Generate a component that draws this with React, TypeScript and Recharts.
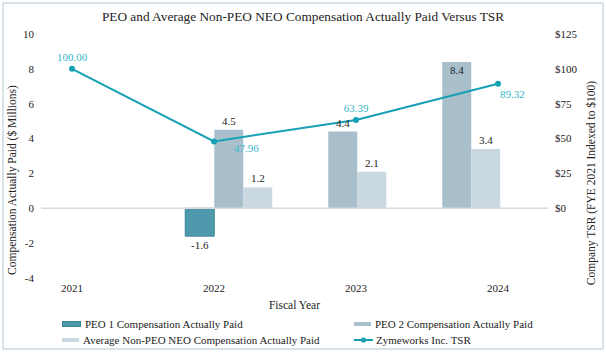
import React from 'react';
import {
  ComposedChart, Bar, Line, XAxis, YAxis, ReferenceLine, LabelList,
} from 'recharts';

// fiscal years and values
const YEARS = ['2021', '2022', '2023', '2024'];
const PEO1_CAP = [null, -1.6, null, null];        // $ millions
const PEO2_CAP = [null, 4.5, 4.4, 8.4];
const NON_PEO_CAP = [null, 1.2, 2.1, 3.4];
const TSR = [100.0, 47.96, 63.39, 89.32];         // indexed to $100

const LEFT_TICKS = [-4, -2, 0, 2, 4, 6, 8, 10];
const RIGHT_TICKS = [0, 25, 50, 75, 100, 125];

const rows = YEARS.map((year, i) => ({
  year,
  peo1: PEO1_CAP[i],
  peo2: PEO2_CAP[i],
  nonPeo: NON_PEO_CAP[i],
  tsr: TSR[i],
}));

const FONT = '"Liberation Serif", "Times New Roman", serif';
const TEAL = '#4E9AAC';
const TEAL_EDGE = '#3A8797';
const PEO2_FILL = '#A9C0CC';
const NONPEO_FILL = '#C9D8E1';
const LINE = '#16A0B5';
const LINE_TEXT = '#35B6C9';

// where each TSR value label sits relative to its point
const TSR_LABEL_POS = [
  { dx: 0, dy: -8, anchor: 'middle' },
  { dx: 20, dy: 11, anchor: 'start' },
  { dx: 0, dy: -8, anchor: 'middle' },
  { dx: 2, dy: 14, anchor: 'start' },
];

const tickStyle = { fontSize: 11, fill: '#222', fontFamily: FONT };

function barLabel(insideIdx: number[] = []) {
  return (p: any) => {
    const { x, y, width, height, value, index } = p;
    if (value == null) return null;
    const top = Math.min(y, y + height);
    const bottom = Math.max(y, y + height);
    const cx = x + width / 2;
    let ty = top - 5;
    if (value < 0) ty = bottom + 13;
    else if (insideIdx.includes(index)) ty = top + 12;
    return (
      <text x={cx} y={ty} textAnchor="middle" fontSize={11} fontFamily={FONT} fill="#222">
        {Number(value).toFixed(1)}
      </text>
    );
  };
}

function tsrLabel(p: any) {
  const { x, y, value, index } = p;
  const pos = TSR_LABEL_POS[index] || TSR_LABEL_POS[0];
  return (
    <text x={x + pos.dx} y={y + pos.dy} textAnchor={pos.anchor} fontSize={11} fontFamily={FONT} fill={LINE_TEXT}>
      {Number(value).toFixed(2)}
    </text>
  );
}

function LegendItem({ kind, color, edge, text }: { kind: 'box' | 'line'; color: string; edge?: string; text: string }) {
  return (
    <div style={{ display: 'flex', alignItems: 'center', height: 16 }}>
      {kind === 'box' ? (
        <span style={{
          display: 'inline-block', width: 17, height: 4, background: color,
          border: edge ? `1px solid ${edge}` : 'none', marginRight: 4,
        }} />
      ) : (
        <svg width={19} height={8} style={{ marginRight: 3 }}>
          <line x1={0} y1={4} x2={19} y2={4} stroke={color} strokeWidth={2} />
          <circle cx={9.5} cy={4} r={2.6} fill={color} />
        </svg>
      )}
      <span>{text}</span>
    </div>
  );
}

export default function App() {
  return (
    <div style={{
      position: 'absolute', left: 0, top: 0, width: 606, height: 354,
      background: '#fff', fontFamily: FONT, color: '#222',
    }}>
      <div style={{
        position: 'absolute', left: 2, top: 2, width: 598, height: 344,
        border: '2px solid #D8E2E9', borderRadius: 2,
      }} />
      <div style={{
        position: 'absolute', left: 0, top: 8, width: 606, textAlign: 'center',
        fontSize: 13.3, lineHeight: '18px',
      }}>
        PEO and Average Non-PEO NEO Compensation Actually Paid Versus TSR
      </div>

      <div style={{ position: 'absolute', left: 0, top: 0 }}>
        <ComposedChart
          width={606}
          height={354}
          data={rows}
          margin={{ top: 34, right: 0, bottom: 56, left: 0 }}
          barCategoryGap="12.5%"
          barGap={0}
        >
          <XAxis
            xAxisId="tsr"
            dataKey="year"
            scale="point"
            padding={{ left: 31, right: 50 }}
            axisLine={false}
            tickLine={false}
            tickSize={0}
            tickMargin={6}
            height={20}
            tick={tickStyle}
          />
          <XAxis
            xAxisId="bars"
            dataKey="year"
            hide
            height={0}
            padding={{ left: 16, right: 35 }}
          />
          <YAxis
            yAxisId="cap"
            domain={[-4, 10]}
            ticks={LEFT_TICKS}
            interval={0}
            width={41}
            axisLine={false}
            tickLine={false}
            tickSize={0}
            tickMargin={7}
            tick={tickStyle}
            label={() => {
              const cx = 13;
              const cy = 180;
              return (
                <text x={cx} y={cy} transform={`rotate(-90 ${cx} ${cy})`} textAnchor="middle"
                  dominantBaseline="middle" fontSize={11.5} fontFamily={FONT} fill="#222">
                  Compensation Actually Paid ($ Millions)
                </text>
              );
            }}
          />
          <YAxis
            yAxisId="tsr"
            orientation="right"
            domain={[-50, 125]}
            ticks={RIGHT_TICKS}
            interval={0}
            width={58}
            axisLine={false}
            tickLine={false}
            tickSize={0}
            tickMargin={7}
            tick={{ ...tickStyle, textAnchor: 'start' }}
            tickFormatter={(v: number) => `$${v}`}
            label={() => {
              const cx = 592;
              const cy = 183;
              return (
                <text x={cx} y={cy} transform={`rotate(-90 ${cx} ${cy})`} textAnchor="middle"
                  dominantBaseline="middle" fontSize={11.5} fontFamily={FONT} fill="#222">
                  Company TSR (FYE 2021 Indexed to $100)
                </text>
              );
            }}
          />
          <ReferenceLine yAxisId="cap" xAxisId="bars" y={0} stroke="#DADADA" strokeWidth={1.5} />

          <Bar xAxisId="bars" yAxisId="cap" dataKey="peo1" fill={TEAL} stroke={TEAL_EDGE} strokeWidth={1}
            isAnimationActive={false}>
            <LabelList dataKey="peo1" content={barLabel()} />
          </Bar>
          <Bar xAxisId="bars" yAxisId="cap" dataKey="peo2" fill={PEO2_FILL} isAnimationActive={false}>
            <LabelList dataKey="peo2" content={barLabel([2])} />
          </Bar>
          <Bar xAxisId="bars" yAxisId="cap" dataKey="nonPeo" fill={NONPEO_FILL} isAnimationActive={false}>
            <LabelList dataKey="nonPeo" content={barLabel()} />
          </Bar>
          <Line
            xAxisId="tsr"
            yAxisId="tsr"
            dataKey="tsr"
            stroke={LINE}
            strokeWidth={2}
            dot={{ r: 3, fill: LINE, stroke: LINE, strokeWidth: 0 }}
            isAnimationActive={false}
          >
            <LabelList dataKey="tsr" content={tsrLabel} />
          </Line>
        </ComposedChart>
      </div>

      <div style={{
        position: 'absolute', left: 0, top: 297, width: 589, textAlign: 'center',
        fontSize: 11.5, lineHeight: '16px',
      }}>
        Fiscal Year
      </div>
      <div style={{
        position: 'absolute', left: 62, top: 316, fontSize: 11, lineHeight: '16px',
        display: 'grid', gridTemplateColumns: '292px auto', rowGap: 0,
      }}>
        <LegendItem kind="box" color={TEAL} edge={TEAL_EDGE} text="PEO 1 Compensation Actually Paid" />
        <LegendItem kind="box" color={PEO2_FILL} text="PEO 2 Compensation Actually Paid" />
        <LegendItem kind="box" color={NONPEO_FILL} text="Average Non-PEO NEO Compensation Actually Paid" />
        <LegendItem kind="line" color={LINE} text="Zymeworks Inc. TSR" />
      </div>
    </div>
  );
}
